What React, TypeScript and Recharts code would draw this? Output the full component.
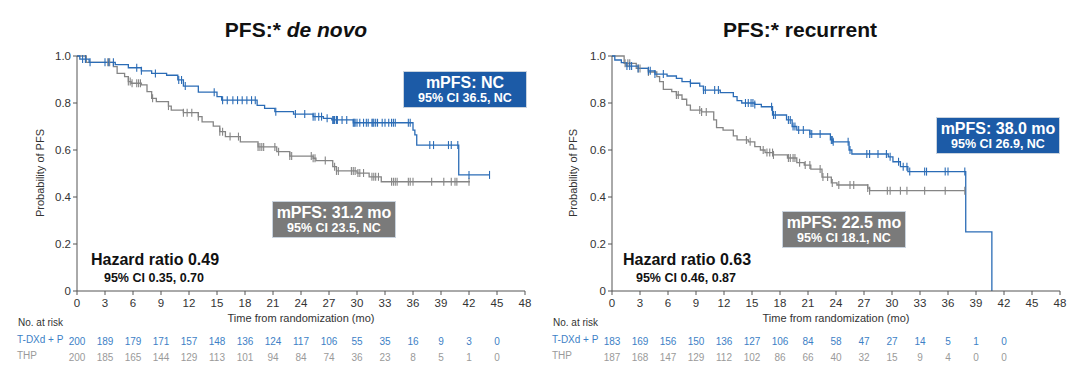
import React from 'react';
import { ComposedChart, Line, Scatter, XAxis, YAxis } from 'recharts';

// Kaplan-Meier step points [month, probability]
const deNovoTdxdSteps = [
  [0, 1], [0.3, 0.987], [1.3, 0.973], [4.1, 0.963], [5.5, 0.95], [6.9, 0.937], [8.0, 0.926],
  [9.6, 0.918], [10.8, 0.898], [11.4, 0.872], [13.0, 0.846], [15.0, 0.827], [15.5, 0.812],
  [19.3, 0.79], [20.1, 0.777], [21.2, 0.763], [23.2, 0.753], [25.3, 0.742], [26.4, 0.735],
  [27.3, 0.728], [29.6, 0.716], [36.0, 0.685], [36.2, 0.664], [36.4, 0.621], [40.9, 0.494],
  [44.2, 0.494]
];
const deNovoThpSteps = [
  [0, 1], [1.0, 0.973], [3.9, 0.955], [4.3, 0.926], [5.1, 0.912], [5.5, 0.891], [5.8, 0.884],
  [6.9, 0.877], [7.5, 0.848], [8.0, 0.82], [8.5, 0.806], [9.8, 0.787], [10.1, 0.77], [11.4, 0.759],
  [13.0, 0.742], [13.4, 0.72], [14.6, 0.702], [15.3, 0.678], [15.9, 0.657], [17.5, 0.635],
  [19.4, 0.613], [21.4, 0.593], [22.8, 0.574], [25.3, 0.565], [25.6, 0.555], [27.4, 0.529],
  [27.8, 0.511], [30.0, 0.502], [31.3, 0.486], [32.6, 0.465], [42.1, 0.465]
];
const recurrentTdxdSteps = [
  [0, 1], [0.3, 0.983], [1.0, 0.972], [1.5, 0.957], [2.8, 0.947], [3.9, 0.937], [4.6, 0.923],
  [5.9, 0.915], [6.9, 0.905], [7.5, 0.891], [8.4, 0.884], [9.4, 0.872], [9.8, 0.855], [11.6, 0.844],
  [13.0, 0.827], [13.4, 0.81], [13.9, 0.8], [15.3, 0.794], [16.0, 0.784], [17.2, 0.749],
  [18.7, 0.728], [19.3, 0.7], [19.8, 0.685], [21.2, 0.668], [23.4, 0.643], [23.7, 0.635],
  [25.4, 0.6], [25.7, 0.583], [29.6, 0.571], [30.1, 0.55], [30.9, 0.529], [31.7, 0.508],
  [37.9, 0.252], [40.7, 0]
];
const recurrentThpSteps = [
  [0, 1], [1.3, 0.969], [2.6, 0.947], [3.9, 0.932], [4.8, 0.912], [5.1, 0.891], [5.5, 0.858],
  [6.4, 0.848], [6.9, 0.834], [7.5, 0.816], [8.0, 0.791], [8.4, 0.77], [9.6, 0.762], [10.9, 0.728],
  [11.2, 0.695], [11.9, 0.685], [13.0, 0.66], [13.4, 0.643], [14.6, 0.635], [15.3, 0.614],
  [15.9, 0.6], [16.4, 0.589], [17.3, 0.579], [18.8, 0.566], [19.8, 0.546], [20.6, 0.536],
  [21.3, 0.519], [22.5, 0.485], [23.5, 0.46], [24.1, 0.451], [27.4, 0.438], [27.6, 0.427],
  [37.8, 0.427]
];

// censoring times (months)
const deNovoTdxdCensored = [
  0.6, 0.9, 1.4, 3.0, 3.4, 3.9, 6.4, 6.9, 8.4, 10.9, 11.2, 11.6, 14.7, 15.6, 16.1, 16.7, 17.2, 17.7,
  18.2, 18.7, 19.1, 21.3, 23.4, 24.4, 25.3, 25.5, 25.9, 26.2, 26.8, 27.4, 27.5, 27.6, 27.8, 27.9,
  28.4, 28.9, 29.6, 29.7, 29.8, 30.0, 30.3, 30.7, 31.0, 31.2, 31.6, 31.7, 31.8, 32.0, 32.2, 32.7,
  33.0, 33.4, 33.7, 33.9, 34.1, 35.5, 35.7, 37.8, 38.2, 39.8, 40.1, 40.8, 42.0, 44.2
];
const deNovoThpCensored = [
  3.3, 3.5, 5.5, 5.7, 5.9, 6.4, 6.6, 6.8, 8.1, 9.8, 11.4, 11.8, 12.3, 13.0, 15.3, 15.6, 16.4, 17.3,
  19.4, 19.6, 19.8, 20.0, 21.2, 21.6, 22.8, 23.0, 25.1, 25.3, 25.5, 26.6, 27.6, 27.8, 28.0, 29.4,
  29.6, 29.8, 30.1, 30.3, 30.7, 31.6, 31.8, 32.0, 32.3, 33.7, 33.9, 34.1, 34.3, 35.5, 35.7, 36.0,
  38.0, 39.3, 40.1, 40.5, 40.7, 42.0
];
const recurrentTdxdCensored = [
  1.6, 1.9, 2.1, 2.8, 3.9, 4.1, 4.6, 5.5, 8.4, 9.8, 10.0, 11.0, 11.4, 14.3, 14.6, 14.9, 15.1, 15.3,
  17.1, 17.3, 17.5, 18.9, 19.1, 19.4, 19.6, 20.0, 20.5, 21.2, 21.4, 22.3, 23.5, 23.6, 23.7, 25.3,
  25.5, 27.3, 27.6, 28.5, 29.4, 29.8, 30.7, 31.2, 31.6, 31.9, 33.5, 33.7, 35.7, 36.0, 37.8
];
const recurrentThpCensored = [
  1.4, 1.7, 1.9, 2.8, 3.0, 3.9, 6.9, 7.1, 9.4, 9.6, 10.1, 14.4, 14.8, 16.2, 16.6, 16.9, 17.2, 17.3,
  18.9, 19.1, 19.4, 19.6, 20.1, 20.7, 21.2, 22.3, 22.6, 23.1, 23.6, 24.3, 25.5, 25.9, 27.4, 27.6,
  29.5, 29.8, 30.9, 31.6, 33.5, 35.7, 37.8
];

const xTicks = [0, 3, 6, 9, 12, 15, 18, 21, 24, 27, 30, 33, 36, 39, 42, 45, 48];
const yTicks = [0, 0.2, 0.4, 0.6, 0.8, 1.0];

const deNovoTdxdRisk = [200, 189, 179, 171, 157, 148, 136, 124, 117, 106, 55, 35, 16, 9, 3, 0];
const deNovoThpRisk = [200, 185, 165, 144, 129, 113, 101, 94, 84, 74, 36, 23, 8, 5, 1, 0];
const recurrentTdxdRisk = [183, 169, 156, 150, 136, 127, 106, 84, 58, 47, 27, 14, 5, 1, 0];
const recurrentThpRisk = [187, 168, 147, 129, 112, 102, 86, 66, 40, 32, 15, 9, 4, 0, 0];

const BLUE = '#2b6cb6';
const GRAY = '#858585';
const BLUE_TEXT = '#3d7fc6';
const GRAY_TEXT = '#9a9a9a';
const AXIS = '#555555';
const FONT = '"Liberation Sans", Arial, sans-serif';

const toRows = (steps: number[][]) => steps.map(([t, s]) => ({ t, s }));

const survivalAt = (steps: number[][], time: number) => {
  let s = 1;
  for (const [t, v] of steps) {
    if (t <= time) s = v;
  }
  return s;
};

const censorRows = (steps: number[][], times: number[]) =>
  times.map((t) => ({ t, s: survivalAt(steps, t) }));

const CensorMark = (color: string) => (props: any) => (
  <line x1={props.cx} x2={props.cx} y1={props.cy - 4} y2={props.cy + 4} stroke={color} strokeWidth={1.1} />
);

interface PanelProps {
  left: number;
  yAxisWidth: number;
  marginRight: number;
  blueSteps: number[][];
  graySteps: number[][];
  blueCensored: number[];
  grayCensored: number[];
  blueRisk: number[];
  grayRisk: number[];
}

const KMPanel: React.FC<PanelProps> = ({
  left, yAxisWidth, marginRight, blueSteps, graySteps, blueCensored, grayCensored, blueRisk, grayRisk
}) => {
  const renderTick = (props: any) => {
    const { x, y, payload } = props;
    const i = xTicks.indexOf(payload.value);
    return (
      <g>
        <text x={x} y={y + 10} textAnchor="middle" fontSize={11.5} fill="#333" fontFamily={FONT}>
          {payload.value}
        </text>
        {blueRisk[i] !== undefined && (
          <text x={x} y={y + 47.5} textAnchor="middle" fontSize={10} fill={BLUE_TEXT} fontFamily={FONT}>
            {blueRisk[i]}
          </text>
        )}
        {grayRisk[i] !== undefined && (
          <text x={x} y={y + 63.5} textAnchor="middle" fontSize={10} fill={GRAY_TEXT} fontFamily={FONT}>
            {grayRisk[i]}
          </text>
        )}
      </g>
    );
  };

  return (
    <div style={{ position: 'absolute', left, top: 0 }}>
      <ComposedChart width={540} height={380} margin={{ top: 56, right: marginRight, bottom: 9, left: 0 }}>
        <XAxis
          type="number"
          dataKey="t"
          domain={[0, 48]}
          ticks={xTicks}
          height={80}
          tickSize={4}
          interval={0}
          stroke={AXIS}
          tickLine={{ stroke: AXIS }}
          tick={renderTick}
          allowDuplicatedCategory={false}
        />
        <YAxis
          type="number"
          dataKey="s"
          domain={[0, 1]}
          ticks={yTicks}
          width={yAxisWidth}
          tickSize={4}
          stroke={AXIS}
          tick={{ fontSize: 11.5, fill: '#333', fontFamily: FONT }}
          tickFormatter={(v: number) => (v === 0 ? '0' : v.toFixed(1))}
        />
        <Line
          data={toRows(graySteps)}
          dataKey="s"
          type="stepAfter"
          stroke={GRAY}
          strokeWidth={1.3}
          dot={false}
          activeDot={false}
          isAnimationActive={false}
        />
        <Line
          data={toRows(blueSteps)}
          dataKey="s"
          type="stepAfter"
          stroke={BLUE}
          strokeWidth={1.3}
          dot={false}
          activeDot={false}
          isAnimationActive={false}
        />
        <Scatter
          data={censorRows(graySteps, grayCensored)}
          dataKey="s"
          shape={CensorMark(GRAY)}
          isAnimationActive={false}
        />
        <Scatter
          data={censorRows(blueSteps, blueCensored)}
          dataKey="s"
          shape={CensorMark(BLUE)}
          isAnimationActive={false}
        />
      </ComposedChart>
    </div>
  );
};

const abs = (left: number, top: number, extra: React.CSSProperties = {}): React.CSSProperties => ({
  position: 'absolute', left, top, whiteSpace: 'nowrap', ...extra
});

const Box: React.FC<{ left: number; top: number; bg: string; title: string; ci: string }> = ({ left, top, bg, title, ci }) => (
  <div
    style={{
      ...abs(left, top),
      width: 124, height: 37, background: bg, color: '#fff', fontWeight: 'bold',
      display: 'flex', flexDirection: 'column', alignItems: 'center', justifyContent: 'center',
      border: '1px solid #c9d3de', boxSizing: 'border-box'
    }}
  >
    <div style={{ fontSize: 16, lineHeight: '17px' }}>{title}</div>
    <div style={{ fontSize: 12.5, lineHeight: '15px' }}>{ci}</div>
  </div>
);

const Centered: React.FC<{ cx: number; cy: number; style: React.CSSProperties; children: React.ReactNode }> = ({ cx, cy, style, children }) => (
  <div style={{ ...abs(cx, cy), transform: 'translate(-50%, -50%)', ...style }}>{children}</div>
);

const App: React.FC = () => {
  return (
    <div style={{ position: 'absolute', left: 0, top: 0, width: 1080, height: 380, background: '#fff', fontFamily: FONT, color: '#111', overflow: 'hidden' }}>
      <KMPanel
        left={0}
        yAxisWidth={77}
        marginRight={15}
        blueSteps={deNovoTdxdSteps}
        graySteps={deNovoThpSteps}
        blueCensored={deNovoTdxdCensored}
        grayCensored={deNovoThpCensored}
        blueRisk={deNovoTdxdRisk}
        grayRisk={deNovoThpRisk}
      />
      <KMPanel
        left={540}
        yAxisWidth={72}
        marginRight={20}
        blueSteps={recurrentTdxdSteps}
        graySteps={recurrentThpSteps}
        blueCensored={recurrentTdxdCensored}
        grayCensored={recurrentThpCensored}
        blueRisk={recurrentTdxdRisk}
        grayRisk={recurrentThpRisk}
      />

      {/* titles */}
      <Centered cx={296} cy={30} style={{ fontSize: 21, fontWeight: 'bold' }}>
        PFS:* <i>de novo</i>
      </Centered>
      <Centered cx={800} cy={30} style={{ fontSize: 21, fontWeight: 'bold' }}>
        PFS:* recurrent
      </Centered>

      {/* y axis labels */}
      <Centered cx={40} cy={173} style={{ fontSize: 11, color: '#333', transform: 'translate(-50%, -50%) rotate(-90deg)' }}>
        Probability of PFS
      </Centered>
      <Centered cx={573} cy={173} style={{ fontSize: 11, color: '#333', transform: 'translate(-50%, -50%) rotate(-90deg)' }}>
        Probability of PFS
      </Centered>

      {/* x axis labels */}
      <Centered cx={301} cy={318} style={{ fontSize: 11, color: '#333' }}>Time from randomization (mo)</Centered>
      <Centered cx={836} cy={318} style={{ fontSize: 11, color: '#333' }}>Time from randomization (mo)</Centered>

      {/* risk table labels */}
      <div style={abs(18, 317, { fontSize: 10, color: '#333' })}>No. at risk</div>
      <div style={abs(17, 334, { fontSize: 10, color: BLUE_TEXT })}>T-DXd + P</div>
      <div style={abs(17, 350, { fontSize: 10, color: GRAY_TEXT })}>THP</div>
      <div style={abs(553, 317, { fontSize: 10, color: '#333' })}>No. at risk</div>
      <div style={abs(552, 334, { fontSize: 10, color: BLUE_TEXT })}>T-DXd + P</div>
      <div style={abs(552, 350, { fontSize: 10, color: GRAY_TEXT })}>THP</div>

      {/* hazard ratios */}
      <Centered cx={155} cy={260} style={{ fontSize: 16, fontWeight: 'bold' }}>Hazard ratio 0.49</Centered>
      <Centered cx={154} cy={278} style={{ fontSize: 12.5, fontWeight: 'bold' }}>95% CI 0.35, 0.70</Centered>
      <Centered cx={687} cy={260} style={{ fontSize: 16, fontWeight: 'bold' }}>Hazard ratio 0.63</Centered>
      <Centered cx={686} cy={278} style={{ fontSize: 12.5, fontWeight: 'bold' }}>95% CI 0.46, 0.87</Centered>

      {/* median boxes */}
      <Box left={403} top={71} bg="#1c5ba7" title="mPFS: NC" ci="95% CI 36.5, NC" />
      <Box left={272} top={201} bg="#7a7a7a" title="mPFS: 31.2 mo" ci="95% CI 23.5, NC" />
      <Box left={936} top={117} bg="#1c5ba7" title="mPFS: 38.0 mo" ci="95% CI 26.9, NC" />
      <Box left={782} top={211} bg="#7a7a7a" title="mPFS: 22.5 mo" ci="95% CI 18.1, NC" />
    </div>
  );
};

export default App;
